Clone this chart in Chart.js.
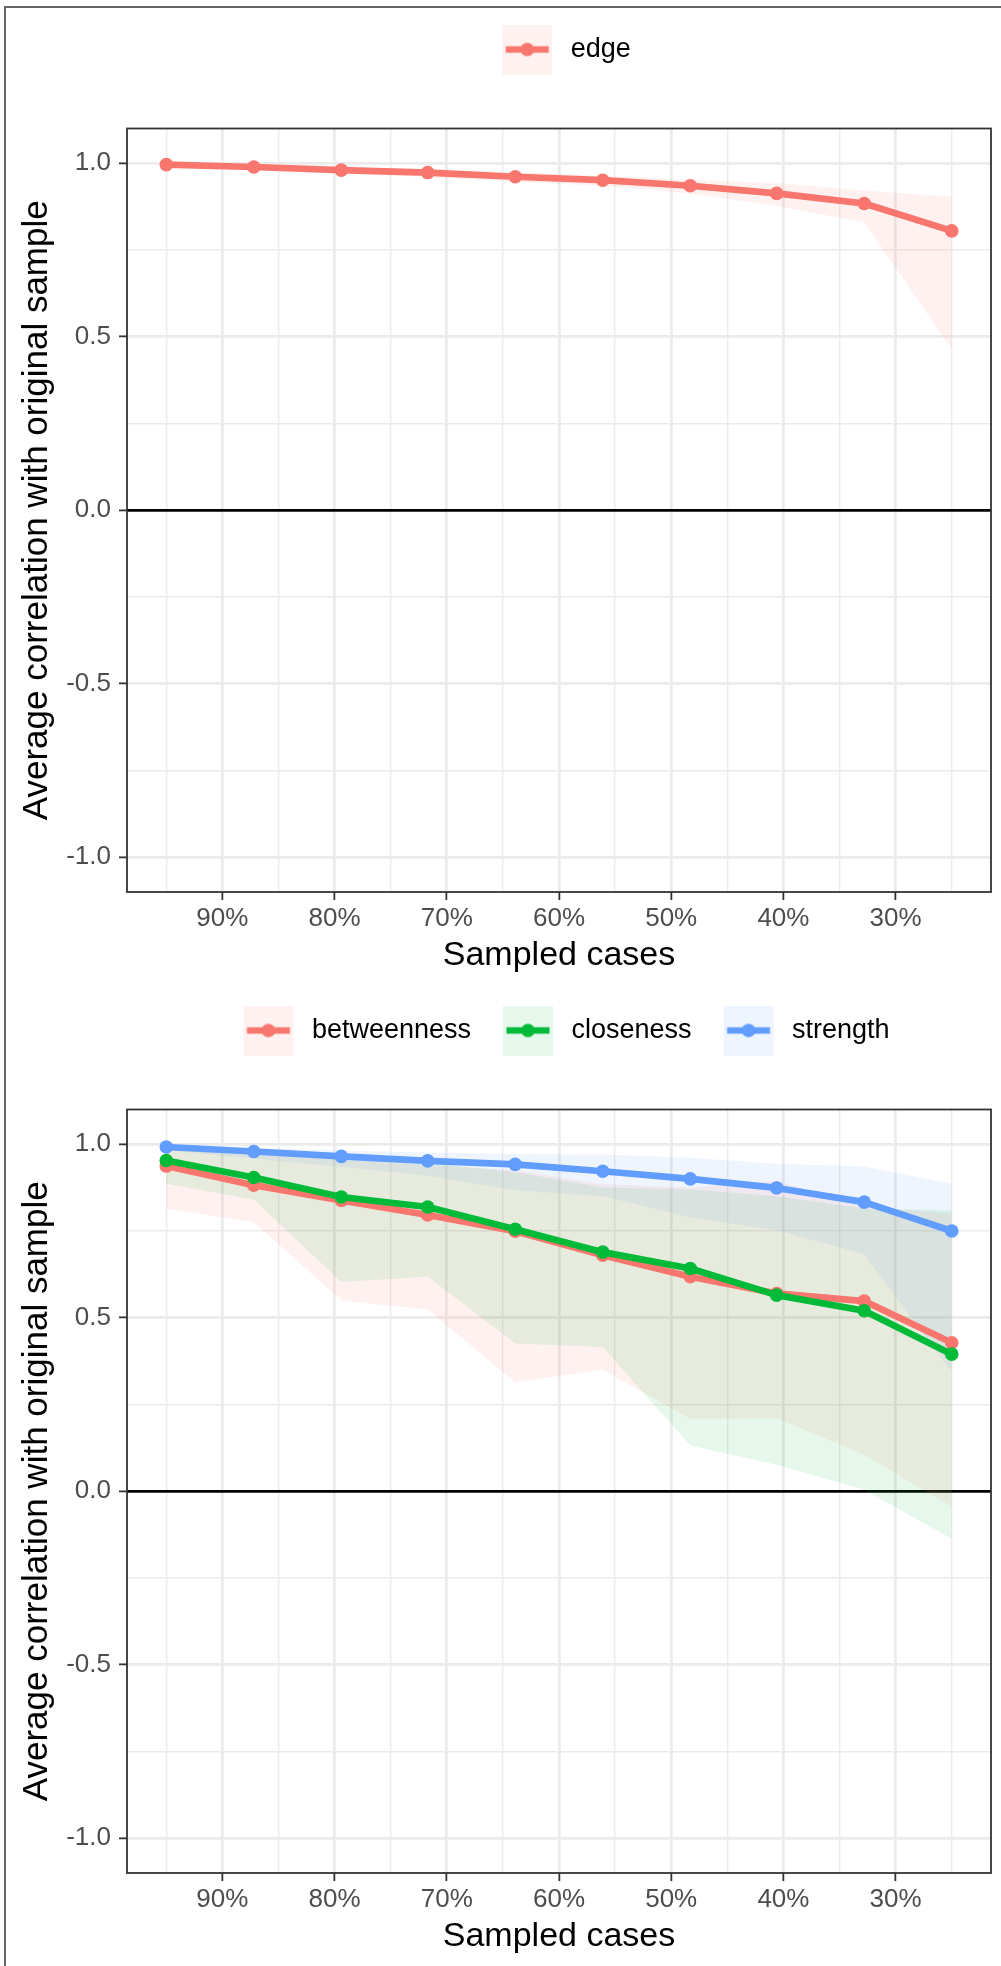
<!DOCTYPE html>
<html>
<head>
<meta charset="utf-8">
<script src="https://cdn.jsdelivr.net/npm/chart.js@4.4.1/dist/chart.umd.min.js"></script>
<style>
  html, body { margin: 0; padding: 0; background: #fff; }
  #page { position: relative; width: 1001px; height: 1966px; overflow: hidden; }
  #frame { position: absolute; left: 4px; top: 6px; width: 1100px; height: 2100px; border-left: 2px solid #666; border-top: 2px solid #666; }
  .panel { position: absolute; left: 0; width: 1001px; height: 981px; }
</style>
</head>
<body>
<div id="page">
  <div id="frame"></div>
  <div class="panel" style="top:0px"><canvas id="edgeChart" width="1001" height="981"></canvas></div>
  <div class="panel" style="top:981px"><canvas id="centralityChart" width="1001" height="981"></canvas></div>
</div>
<script>
// proportion of cases kept in each subset (x axis, in %)
const sampledCases = [95, 87.2, 79.4, 71.7, 63.9, 56.1, 48.3, 40.6, 32.8, 25]

// top panel : edge
const edgeMean  = [0.996, 0.989, 0.980, 0.973, 0.961, 0.951, 0.935, 0.913, 0.884, 0.805]
const edgeLower = [0.991, 0.982, 0.970, 0.960, 0.946, 0.935, 0.913, 0.877, 0.830, 0.464]
const edgeUpper = [0.999, 0.995, 0.988, 0.984, 0.974, 0.963, 0.952, 0.943, 0.921, 0.903]

// bottom panel : centrality indices
const betweennessMean  = [0.937, 0.882, 0.838, 0.796, 0.749, 0.680, 0.618, 0.570, 0.548, 0.428]
const betweennessLower = [0.814, 0.776, 0.550, 0.524, 0.313, 0.351, 0.208, 0.210, 0.105, -0.044]
const betweennessUpper = [0.985, 0.975, 0.955, 0.940, 0.925, 0.885, 0.875, 0.895, 0.820, 0.800]

const closenessMean  = [0.953, 0.904, 0.848, 0.819, 0.755, 0.689, 0.642, 0.565, 0.520, 0.395]
const closenessLower = [0.886, 0.840, 0.603, 0.618, 0.426, 0.416, 0.132, 0.076, 0.004, -0.137]
const closenessUpper = [0.990, 0.975, 0.960, 0.945, 0.920, 0.875, 0.870, 0.850, 0.815, 0.810]

const strengthMean  = [0.992, 0.979, 0.965, 0.952, 0.942, 0.922, 0.900, 0.874, 0.833, 0.750]
const strengthLower = [0.982, 0.958, 0.934, 0.910, 0.867, 0.850, 0.789, 0.752, 0.683, 0.345]
const strengthUpper = [0.996, 0.990, 0.982, 0.976, 0.972, 0.970, 0.961, 0.944, 0.936, 0.886]

// axes
const xRange = [21.5, 98.5]
const yRange = [-1.1, 1.1]
const xMajorTicks = [90, 80, 70, 60, 50, 40, 30]
const xTickLabels = ['90%', '80%', '70%', '60%', '50%', '40%', '30%']
const xMinorTicks = [95, 85, 75, 65, 55, 45, 35, 25]
const yMajorTicks = [1, 0.5, 0, -0.5, -1]
const yTickLabels = ['1.0', '0.5', '0.0', '-0.5', '-1.0']
const yMinorTicks = [0.75, 0.25, -0.25, -0.75]

const RED = '#F8766D'
const GREEN = '#00BA38'
const BLUE = '#619CFF'

Chart.defaults.font.family = '"Liberation Sans", Arial, sans-serif'

function fade(hex, alpha) {
  const n = parseInt(hex.slice(1), 16)
  return `rgba(${(n >> 16) & 255}, ${(n >> 8) & 255}, ${n & 255}, ${alpha})`
}

function toPoints(values) {
  return sampledCases.map((x, i) => ({ x: x, y: values[i] }))
}

// legend key like ggplot : tinted square + line + dot (15px of empty space on the left)
function makeKey(color) {
  const key = document.createElement('canvas')
  key.width = 70
  key.height = 50
  const c = key.getContext('2d')
  c.fillStyle = fade(color, 0.1)
  c.fillRect(15, 0, 50, 50)
  c.strokeStyle = color
  c.lineWidth = 6.7
  c.beginPath()
  c.moveTo(18.5, 25)
  c.lineTo(61.5, 25)
  c.stroke()
  c.fillStyle = color
  c.beginPath()
  c.arc(40, 25, 6.8, 0, Math.PI * 2)
  c.fill()
  return key
}

// frame around the plotting area
const panelBorder = {
  id: 'panelBorder',
  afterDraw(chart) {
    const { ctx, chartArea } = chart
    ctx.save()
    ctx.strokeStyle = '#333333'
    ctx.lineWidth = 1.8
    ctx.strokeRect(chartArea.left, chartArea.top, chartArea.width, chartArea.height)
    ctx.restore()
  }
}

// more room between legend and plot
const legendSpace = {
  id: 'legendSpace',
  beforeInit(chart) {
    const fit = chart.legend.fit
    chart.legend.fit = function () {
      fit.call(this)
      this.height += 55.5
    }
  }
}

function isMajor(list, ctx) {
  return ctx.tick && list.includes(ctx.tick.value)
}

function gridOptions(majors) {
  return {
    color: ctx => (ctx.tick && ctx.tick.value === 0 && majors === yMajorTicks) ? '#000000' : '#EBEBEB',
    lineWidth: ctx => {
      if (ctx.tick && ctx.tick.value === 0 && majors === yMajorTicks) return 2.8
      return isMajor(majors, ctx) ? 2.7 : 1.4
    },
    tickLength: 8,
    tickWidth: 1.8,
    tickColor: ctx => isMajor(majors, ctx) ? '#333333' : 'rgba(0,0,0,0)'
  }
}

function makePanel(canvasId, series) {
  const datasets = []
  // ribbons first (drawn below)
  series.forEach(s => {
    datasets.push({
      label: s.name + ' upper', data: toPoints(s.upper), fill: '+1',
      backgroundColor: fade(s.color, 0.1), borderColor: 'rgba(0,0,0,0)',
      borderWidth: 0, pointRadius: 0, order: 10
    })
    datasets.push({
      label: s.name + ' lower', data: toPoints(s.lower), fill: false,
      borderColor: 'rgba(0,0,0,0)', borderWidth: 0, pointRadius: 0, order: 10
    })
  })
  series.forEach((s, k) => {
    datasets.push({
      label: s.name, data: toPoints(s.mean), fill: false,
      borderColor: s.color, backgroundColor: s.color, borderWidth: 6.7,
      borderJoinStyle: 'round', pointRadius: 6.8, pointBorderWidth: 0,
      pointBackgroundColor: s.color, order: series.length - k
    })
  })

  return new Chart(document.getElementById(canvasId), {
    type: 'line',
    data: { datasets: datasets },
    options: {
      responsive: false,
      animation: false,
      events: [],
      layout: { padding: { top: 19, right: 10, bottom: 0, left: 0 } },
      plugins: {
        tooltip: { enabled: false },
        legend: {
          position: 'top',
          fullSize: false,
          labels: {
            usePointStyle: true,
            pointStyleWidth: 70,
            boxHeight: 27,
            padding: 17,
            color: '#000000',
            font: { size: 27 },
            generateLabels: () => series.map(s => ({
              text: s.name, pointStyle: makeKey(s.color), fillStyle: s.color,
              strokeStyle: s.color, lineWidth: 0, hidden: false
            }))
          }
        }
      },
      scales: {
        x: {
          type: 'linear', reverse: true, min: xRange[0], max: xRange[1],
          afterBuildTicks: axis => { axis.ticks = xMinorTicks.concat(xMajorTicks).sort((a, b) => a - b).map(v => ({ value: v })) },
          afterFit: scale => { scale.height = 89 },
          grid: gridOptions(xMajorTicks),
          border: { display: false },
          ticks: {
            autoSkip: false, maxRotation: 0, padding: 3, color: '#4D4D4D', font: { size: 26 },
            callback: v => { const i = xMajorTicks.indexOf(v); return i >= 0 ? xTickLabels[i] : '' }
          },
          title: { display: true, text: 'Sampled cases', color: '#000000', font: { size: 34 }, padding: { top: 0, bottom: 5 } }
        },
        y: {
          type: 'linear', min: yRange[0], max: yRange[1],
          afterBuildTicks: axis => { axis.ticks = yMinorTicks.concat(yMajorTicks).sort((a, b) => a - b).map(v => ({ value: v })) },
          afterFit: scale => { scale.width = 127 },
          grid: gridOptions(yMajorTicks),
          border: { display: false },
          ticks: {
            autoSkip: false, padding: 8, color: '#4D4D4D', font: { size: 26 },
            callback: v => { const i = yMajorTicks.indexOf(v); return i >= 0 ? yTickLabels[i] : '' }
          },
          title: { display: true, text: 'Average correlation with original sample', color: '#000000', font: { size: 35 }, padding: { top: 16, bottom: 0 } }
        }
      }
    },
    plugins: [legendSpace, panelBorder]
  })
}

makePanel('edgeChart', [
  { name: 'edge', color: RED, mean: edgeMean, lower: edgeLower, upper: edgeUpper }
])

makePanel('centralityChart', [
  { name: 'betweenness', color: RED, mean: betweennessMean, lower: betweennessLower, upper: betweennessUpper },
  { name: 'closeness', color: GREEN, mean: closenessMean, lower: closenessLower, upper: closenessUpper },
  { name: 'strength', color: BLUE, mean: strengthMean, lower: strengthLower, upper: strengthUpper }
])
</script>
</body>
</html>
